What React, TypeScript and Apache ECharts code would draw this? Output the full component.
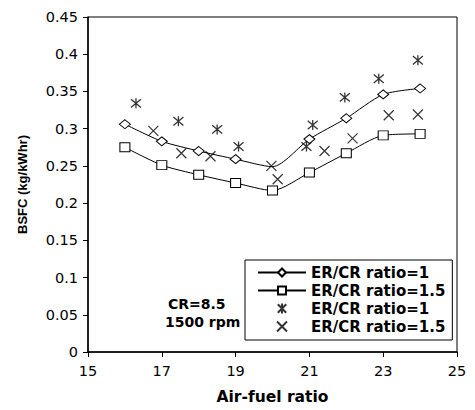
import React, { useEffect, useRef } from "react";
import * as echarts from "echarts";

const xLine = [16, 17, 18, 19, 20, 21, 22, 23, 24];
const bsfcLine1 = [0.306, 0.283, 0.27, 0.259, 0.249, 0.286, 0.314, 0.346, 0.354];
const bsfcLine15 = [0.275, 0.251, 0.238, 0.227, 0.217, 0.241, 0.267, 0.291, 0.293];
const xStar = [16.3, 17.45, 18.5, 19.08, 20.92, 21.09, 21.96, 22.88, 23.94];
const bsfcStar = [0.334, 0.31, 0.299, 0.276, 0.276, 0.305, 0.342, 0.367, 0.392];
const xCross = [16.77, 17.53, 18.32, 19.97, 20.14, 21.41, 22.17, 23.15, 23.94];
const bsfcCross = [0.297, 0.267, 0.263, 0.25, 0.232, 0.27, 0.287, 0.318, 0.319];
const xTicks = [15, 17, 19, 21, 23, 25];
const legendLabels: Record<string, string> = {
  line1: "ER/CR ratio=1",
  line15: "ER/CR ratio=1.5",
  pts1: "ER/CR ratio=1",
  pts15: "ER/CR ratio=1.5",
};
const hiddenMarkerIndex = 4;

const STAR = "path://M5,0L5,10M0.8,0.8L9.2,9.2M0.8,9.2L9.2,0.8";
const CROSS = "path://M0,0L10,10M0,10L10,0";
const FONT = "DejaVu Sans";

export default function App() {
  const ref = useRef<HTMLDivElement>(null);
  useEffect(() => {
    document.body.style.margin = "0";
    const chart = echarts.init(ref.current!, undefined, { renderer: "svg" });
    const pairs = (xs: number[], ys: number[]) => xs.map((x, i) => [x, ys[i]]);
    const line1Data = pairs(xLine, bsfcLine1).map((v, i) =>
      i === hiddenMarkerIndex ? { value: v, symbol: "none" } : { value: v }
    );
    chart.setOption({
      animation: false,
      backgroundColor: "#fff",
      grid: {
        left: 88,
        right: 18,
        top: 17,
        bottom: 58,
        show: true,
        borderColor: "#000",
        borderWidth: 1,
        backgroundColor: "transparent",
      },
      xAxis: {
        type: "value",
        min: 15,
        max: 25,
        name: "Air-fuel ratio",
        nameLocation: "middle",
        nameGap: 37,
        nameTextStyle: { fontFamily: FONT, fontWeight: "bold", fontSize: 15.5, color: "#000" },
        axisLine: { show: true, lineStyle: { color: "#000", width: 1.5 } },
        axisTick: { show: true, length: 5, lineStyle: { color: "#000" }, customValues: xTicks },
        axisLabel: { fontFamily: FONT, fontSize: 14.5, color: "#000", margin: 11, customValues: xTicks },
        splitLine: { show: false },
      },
      yAxis: {
        type: "value",
        min: 0,
        max: 0.45,
        interval: 0.05,
        name: "BSFC (kg/kWhr)",
        nameLocation: "middle",
        nameGap: 59,
        nameTextStyle: { fontFamily: "Liberation Sans", fontWeight: "bold", fontSize: 13, color: "#000" },
        axisLine: { show: true, lineStyle: { color: "#000", width: 1.5 } },
        axisTick: { show: true, length: 5, lineStyle: { color: "#000" } },
        axisLabel: { fontFamily: FONT, fontSize: 14.5, color: "#000", margin: 10 },
        splitLine: { show: false },
      },
      legend: {
        orient: "vertical",
        left: 245,
        top: 260,
        backgroundColor: "#fff",
        borderColor: "#000",
        borderWidth: 1,
        padding: [5, 7, 6, 12],
        itemWidth: 48,
        itemHeight: 10,
        itemGap: 3,
        data: ["line1", "line15", "pts1", "pts15"],
        formatter: (name: string) => legendLabels[name],
        textStyle: { fontFamily: FONT, fontWeight: "bold", fontSize: 15, color: "#000" },
      },
      series: [
        {
          name: "line1",
          type: "line",
          data: line1Data,
          smooth: 0.25,
          symbol: "diamond",
          symbolSize: [11, 9],
          lineStyle: { color: "#000", width: 1 },
          itemStyle: { color: "#fff", borderColor: "#000", borderWidth: 1 },
          z: 2,
        },
        {
          name: "line15",
          type: "line",
          data: pairs(xLine, bsfcLine15),
          smooth: 0.25,
          symbol: "rect",
          symbolSize: [10, 9],
          lineStyle: { color: "#000", width: 1 },
          itemStyle: { color: "#fff", borderColor: "#000", borderWidth: 1 },
          z: 2,
        },
        {
          name: "pts1",
          type: "scatter",
          data: pairs(xStar, bsfcStar),
          symbol: STAR,
          symbolSize: 10,
          itemStyle: { color: "transparent", borderColor: "#000", borderWidth: 1.3 },
          z: 3,
        },
        {
          name: "pts15",
          type: "scatter",
          data: pairs(xCross, bsfcCross),
          symbol: CROSS,
          symbolSize: 10,
          itemStyle: { color: "transparent", borderColor: "#000", borderWidth: 1.2 },
          z: 3,
        },
      ],
      graphic: [
        {
          type: "text",
          left: 168,
          top: 297,
          style: { text: "CR=8.5", fontFamily: FONT, fontWeight: "bold", fontSize: 14, fill: "#000" },
        },
        {
          type: "text",
          left: 165,
          top: 315,
          style: { text: "1500 rpm", fontFamily: FONT, fontWeight: "bold", fontSize: 14, fill: "#000" },
        },
      ],
    });
    return () => chart.dispose();
  }, []);
  return <div ref={ref} style={{ width: 475, height: 410 }} />;
}
